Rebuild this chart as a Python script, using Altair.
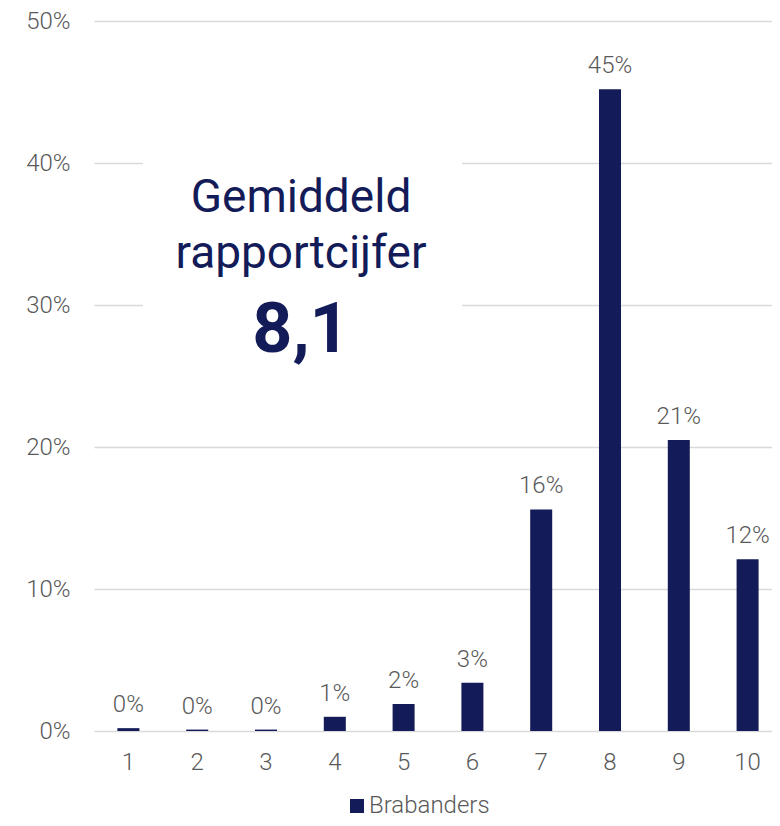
import altair as alt
import pandas as pd

scores = ["1", "2", "3", "4", "5", "6", "7", "8", "9", "10"]
shares = [0.002, 0.001, 0.001, 0.010, 0.019, 0.034, 0.156, 0.452, 0.205, 0.121]
share_labels = ["0%", "0%", "0%", "1%", "2%", "3%", "16%", "45%", "21%", "12%"]
series_name = "Brabanders"
title_lines = ["Gemiddeld", "rapportcijfer"]
average_text = "8,1"

NAVY = "#131b58"
GRAY = "#595959"
FONT = "Roboto"

df = pd.DataFrame({"score": scores, "share": shares, "label": share_labels,
                   "series": [series_name] * len(scores)})

x = alt.X("score:N", sort=scores,
          scale=alt.Scale(range=[0, 688], paddingInner=0.68, paddingOuter=0.34),
          axis=alt.Axis(title=None, labelAngle=0, ticks=False, domain=False,
                        labelPadding=19, labelFontSize=24, labelColor=GRAY,
                        labelFont=FONT, labelFontWeight=300, grid=False))
y = alt.Y("share:Q", scale=alt.Scale(domain=[0, 0.5], nice=False),
          axis=alt.Axis(title=None, format=".0%", values=[0, 0.1, 0.2, 0.3, 0.4, 0.5],
                        ticks=False, domain=False, labelPadding=24, labelFontSize=24,
                        labelColor=GRAY, labelFont=FONT, labelFontWeight=300,
                        gridColor="#d9d9d9", gridWidth=1.5))

base = alt.Chart(df).encode(x=x, y=y)

bars = base.mark_bar(color=NAVY).encode(
    color=alt.Color("series:N", scale=alt.Scale(domain=[series_name], range=[NAVY]),
                    legend=alt.Legend(title=None, orient="none", legendX=251, legendY=773,
                                      symbolType="square", symbolSize=196,
                                      symbolStrokeWidth=0, labelFontSize=24,
                                      labelFont=FONT, labelFontWeight=300,
                                      labelColor=GRAY, labelOffset=0, padding=0))
)

labels = base.mark_text(baseline="alphabetic", dy=-16, fontSize=24, font=FONT,
                        fontWeight=300, color=GRAY).encode(text="label:N")

ann = pd.DataFrame({"line1": [title_lines[0]], "line2": [title_lines[1]], "avg": [average_text]})
ann_base = alt.Chart(ann)

box = ann_base.mark_rect(color="white").encode(
    x=alt.value(49), x2=alt.value(368), y=alt.value(124), y2=alt.value(329))

t1 = ann_base.mark_text(align="center", baseline="alphabetic", fontSize=46, font=FONT,
                        color=NAVY).encode(x=alt.value(207), y=alt.value(191), text="line1:N")
t2 = ann_base.mark_text(align="center", baseline="alphabetic", fontSize=46, font=FONT,
                        color=NAVY).encode(x=alt.value(207), y=alt.value(247), text="line2:N")
t3 = ann_base.mark_text(align="center", baseline="alphabetic", fontSize=70, font=FONT,
                        fontWeight="bold", color=NAVY).encode(x=alt.value(207), y=alt.value(331), text="avg:N")

chart = alt.layer(bars, labels, box, t1, t2, t3).properties(
    width=678, height=710,
    autosize=alt.AutoSizeParams(type="none"),
    padding={"left": 86, "top": 13, "right": 0, "bottom": 87},
).configure_view(stroke=None)

chart.save("out.html", embed_options={"renderer": "svg", "actions": False})
